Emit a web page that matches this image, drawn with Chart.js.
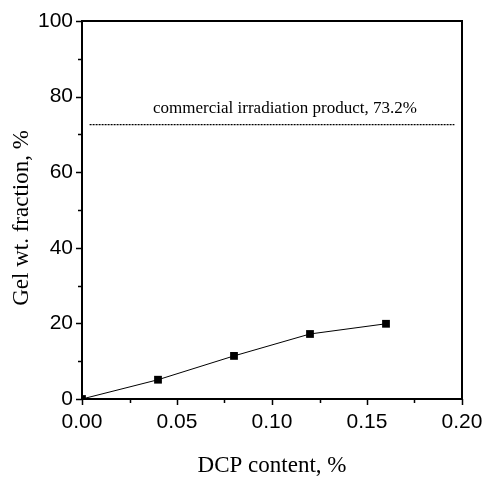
<!DOCTYPE html>
<html>
<head>
<meta charset="utf-8">
<script src="https://cdn.jsdelivr.net/npm/chart.js@4.4.1/dist/chart.umd.min.js"></script>
<style>
  html, body { margin: 0; padding: 0; background: #fff; }
  #wrap { width: 484px; height: 477px; }
</style>
</head>
<body>
<div id="wrap"><canvas id="gelChart"></canvas></div>
<script>
// data
const dcpContent = [0, 0.04, 0.08, 0.12, 0.16];
const gelFraction = [0, 5.1, 11.4, 17.2, 19.9];
const refLineX = [0.004, 0.196];
const refLineY = [72.6, 72.6];
const refLabel = 'commercial irradiation product, 73.2%';
const yMajor = [0, 20, 40, 60, 80, 100];
const yMinor = [10, 30, 50, 70, 90];
const xMajor = [0, 0.05, 0.10, 0.15, 0.20];
const xMinor = [0.025, 0.075, 0.125, 0.175];

const serif = '"Liberation Serif", "Times New Roman", serif';
const sans = '"Liberation Sans", Arial, sans-serif';

// frame, outward ticks and titles
const decorations = {
    id: 'decorations',
    afterDraw: (chart) => {
        const ctx = chart.ctx;
        const a = chart.chartArea;
        const xs = chart.scales.x;
        const ys = chart.scales.y;
        ctx.save();
        ctx.strokeStyle = '#000';
        ctx.lineWidth = 2;
        ctx.strokeRect(a.left, a.top, a.right - a.left, a.bottom - a.top);

        ctx.lineWidth = 1.5;
        ctx.beginPath();
        yMajor.forEach(v => {
            const p = Math.round(ys.getPixelForValue(v)) + 0.5;
            ctx.moveTo(a.left - 6, p); ctx.lineTo(a.left, p);
        });
        yMinor.forEach(v => {
            const p = Math.round(ys.getPixelForValue(v)) + 0.5;
            ctx.moveTo(a.left - 4, p); ctx.lineTo(a.left, p);
        });
        xMajor.forEach(v => {
            const p = Math.round(xs.getPixelForValue(v)) + 0.5;
            ctx.moveTo(p, a.bottom); ctx.lineTo(p, a.bottom + 6);
        });
        xMinor.forEach(v => {
            const p = Math.round(xs.getPixelForValue(v)) + 0.5;
            ctx.moveTo(p, a.bottom); ctx.lineTo(p, a.bottom + 4);
        });
        ctx.stroke();

        ctx.fillStyle = '#000';
        ctx.font = '17px ' + serif;
        ctx.textAlign = 'center';
        ctx.textBaseline = 'alphabetic';
        ctx.fillText(refLabel, 285, 113);

        ctx.font = '23px ' + serif;
        ctx.textBaseline = 'middle';
        ctx.fillText('DCP content, %', 272, 466);

        ctx.translate(22, 218);
        ctx.rotate(-Math.PI / 2);
        ctx.fillText('Gel wt. fraction, %', 0, 0);
        ctx.restore();
    }
};

const gelChart = new Chart(document.getElementById('gelChart'), {
    type: 'scatter',
    data: {
        datasets: [
            {
                data: dcpContent.map((x, i) => ({ x: x, y: gelFraction[i] })),
                showLine: true,
                borderColor: '#000',
                borderWidth: 1,
                pointStyle: 'rect',
                pointRadius: 5.5,
                pointBackgroundColor: '#000',
                pointBorderWidth: 0
            },
            {
                data: refLineX.map((x, i) => ({ x: x, y: refLineY[i] })),
                showLine: true,
                borderColor: '#000',
                borderWidth: 1.2,
                borderDash: [2, 1],
                pointRadius: 0
            }
        ]
    },
    plugins: [decorations],
    options: {
        responsive: true,
        maintainAspectRatio: false,
        animation: false,
        layout: { padding: { top: 21, right: 22, left: 0, bottom: 0 } },
        plugins: {
            legend: { display: false },
            tooltip: { enabled: false }
        },
        scales: {
            x: {
                type: 'linear',
                min: 0,
                max: 0.2,
                afterFit: (scale) => {
                    scale.height = 78;
                    scale.paddingLeft = 0;
                    scale.paddingRight = 0;
                },
                grid: { display: false, drawTicks: false },
                border: { display: false },
                ticks: {
                    stepSize: 0.05,
                    padding: 11,
                    color: '#000',
                    font: { family: sans, size: 21 },
                    callback: (v) => v.toFixed(2)
                }
            },
            y: {
                min: 0,
                max: 100,
                afterFit: (scale) => {
                    scale.width = 82;
                    scale.paddingTop = 0;
                    scale.paddingBottom = 0;
                },
                grid: { display: false, drawTicks: false },
                border: { display: false },
                ticks: {
                    stepSize: 20,
                    padding: 9,
                    color: '#000',
                    font: { family: sans, size: 21 }
                }
            }
        }
    }
});
</script>
</body>
</html>
